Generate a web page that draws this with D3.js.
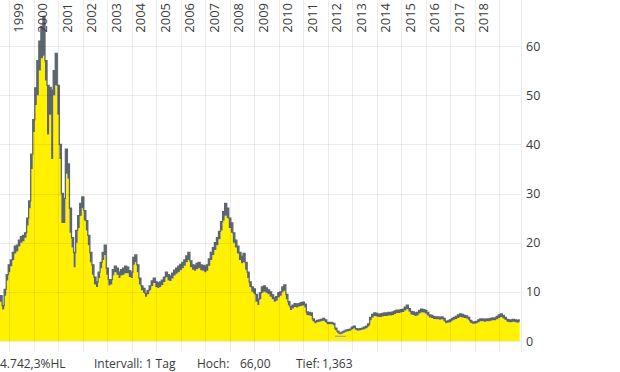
<!DOCTYPE html>
<html><head><meta charset="utf-8">
<script src="https://cdn.jsdelivr.net/npm/d3@7"></script>
<style>body{margin:0;background:#fff}svg{display:block}text{font-family:"Open Sans",sans-serif;fill:#3a3a3a}</style>
</head><body>
<script>
// monthly data starting Aug 1998
const startYear = 1998, startMonth = 7;
const high = [9,9.2,7.2,10.5,13.5,15.5,16.5,18,19.3,19.5,20.5,21.2,21.5,22,25,28.5,38,45,51.5,57,61,64,66,57,52,51.6,51,55,58.5,52,
40,30,29,39,36,27,21,18,22.5,25.5,28,29.3,26.5,24.5,21.5,18,15.5,13,12,14,16,18,19.5,14.8,12.5,12.5,14.5,15.2,14.8,14,
14.5,14.8,15.2,15,14.3,14,17,17.5,15.5,12.8,11.2,10.7,9.7,10.3,11.2,12.2,12.8,12,11.8,12,12.4,13,14,13.5,13.2,13.8,14.4,14.8,15.2,15.6,
16,16.5,17.3,18,16.3,15.5,15.4,15.8,16,15.5,15.4,15.2,15.5,16.7,18,19,20,21,22.3,24.3,26.3,28,27,25,24,22,20.5,19.3,18,17.2,
17.8,16,14,12,11,10.6,9.5,8.5,9.8,11,11.2,10.8,10.4,10,9.4,8.8,9,9.8,10,11,11.4,9.5,8,7,7.3,7.6,7.5,7.6,7.8,7.9,
7.5,5.9,5.8,5.7,4.5,4,4.2,4.3,4.4,4.6,4.3,3.8,3.8,3.8,3.6,2.6,2,1.6,1.8,2,2.2,2.3,2.4,2.8,3,2.5,2.4,2.5,2.6,2.8,
3,3.5,4.8,5.4,5.7,5.6,5.4,5.5,5.6,5.7,5.7,5.8,5.8,5.9,6.1,6.3,6.3,6.4,6.5,6.9,7.3,6.6,6,5.9,5.7,5.8,6.2,6.5,6.4,6.2,
5.8,5.3,5.2,5,4.9,4.9,4.8,4.9,4.6,4,4.1,4.3,4.6,4.8,5,5.3,5.5,5.4,5.2,5.1,4.8,4.2,3.9,3.9,4,4.3,4.5,4.5,4.4,4.5,
4.5,4.6,4.7,4.7,5,5.3,5.5,5.2,4.8,4.4,4.3,4.3,4.4,4.3,4.2,4.3];
const low = [8,8,6.4,9.2,12.3,14,15.2,16.5,17.8,18.2,19.2,20,20.3,21,23.5,27,35,42.5,48,50,55,57.5,58,53,42,46,37,50,52,46,
37,24,24,34,33,22,19,15,20,23,25.5,27,24.5,22.5,19.5,16,13.5,11.5,11,12.8,14.8,16.5,17.5,13.5,11.3,11.5,13.3,14,13.5,12.8,
13.3,13.5,13.8,13.8,13,12.8,15.5,16,14,11.5,10.3,9.8,9,9.5,10.3,11.2,11.8,11,10.8,11,11.4,12,13,12.3,12.2,12.7,13.3,13.7,14,14.4,
14.8,15.3,16,16.5,15,14.5,14.3,14.6,14.8,14.4,14.3,14,14.3,15.3,16.5,17.5,18.5,19.5,20.7,22.5,24.5,25.5,25,23,22,20,19,17.8,16.5,15.8,
16,14.5,12.8,11,10,9.6,8,7.3,8.5,9.8,10,9.8,9.5,9,8.5,8,8.2,8.9,9.2,10,10.2,8.5,7.2,6.3,6.6,6.9,6.8,7,7.1,7.2,
6.8,5.3,5.2,5.1,4,3.6,3.8,3.9,4,4.1,3.8,3.4,3.4,3.4,3.2,2.2,1.7,1.363,1.5,1.7,1.9,2,2.1,2.4,2.6,2.2,2.1,2.2,2.3,2.4,
2.6,3,4.2,4.8,5.1,5,4.9,4.9,5,5.1,5.1,5.2,5.2,5.3,5.5,5.7,5.7,5.8,5.9,6.2,6.5,6,5.4,5.3,5.1,5.2,5.6,5.8,5.8,5.6,
5.2,4.8,4.7,4.5,4.4,4.4,4.3,4.4,4.1,3.6,3.7,3.8,4.1,4.3,4.5,4.7,4.9,4.8,4.7,4.6,4.3,3.7,3.5,3.5,3.6,3.8,4,4,3.9,4,
4,4.1,4.2,4.2,4.4,4.7,4.9,4.6,4.3,3.9,3.8,3.8,3.9,3.8,3.7,3.8];
const yearLabels = ["1999","2000","2001","2002","2003","2004","2005","2006","2007","2008","2009","2010","2011","2012","2013","2014","2015","2016","2017","2018"];
const yTicks = [0,10,20,30,40,50,60];
const footer = [{t:"4.742,3%HL",x:0},{t:"Intervall: 1 Tag",x:94},{t:"Hoch:",x:197},{t:"66,00",x:240},{t:"Tief:",x:296},{t:"1,363",x:322}];

const W = 620, H = 372, plotR = 521;
const svg = d3.select("body").append("svg").attr("width", W).attr("height", H);
const x = d3.scaleTime().domain([new Date(1999,0,1), new Date(2019,0,1)]).range([9.3, 499.3]);
const y = d3.scaleLinear().domain([0,60]).range([341, 46]);
const data = high.map((h,i) => ({d: new Date(startYear, startMonth+i, 1), h, l: low[i]}));
const curve = d3.curveStep;

svg.append("clipPath").attr("id","c").append("rect").attr("x",0).attr("y",0).attr("width",plotR).attr("height",341);
const g = svg.append("g").attr("clip-path","url(#c)");
g.append("path").datum(data).attr("fill","#fff100")
  .attr("d", d3.area().curve(curve).x(d=>x(d.d)).y0(y(0)).y1(d=>y(d.l)));
g.append("path").datum(data).attr("fill","#5d666e")
  .attr("d", d3.area().curve(curve).x(d=>x(d.d)).y0(d=>y(d.l)).y1(d=>y(d.h)));
g.append("path").datum(data).attr("fill","none").attr("stroke","#5d666e").attr("stroke-width",1.3)
  .attr("d", d3.line().curve(curve).x(d=>x(d.d)).y(d=>y(d.h)));

// low marker
const minD = data.reduce((a,b)=> b.l < a.l ? b : a);
svg.append("line").attr("x1", x(minD.d)-5).attr("x2", x(minD.d)+6).attr("y1", y(minD.l)+2).attr("y2", y(minD.l)+2)
  .attr("stroke","#9aa6bd").attr("stroke-width",1.2);

// gridlines
const grid = svg.append("g").attr("stroke","#000").attr("stroke-opacity",0.075);
yTicks.forEach(v => grid.append("line").attr("x1",0).attr("x2",plotR).attr("y1",Math.round(y(v))+0.5).attr("y2",Math.round(y(v))+0.5));
const years = d3.range(1999, 2020).map(yy => new Date(yy,0,1));
years.forEach(dd => grid.append("line").attr("x1",Math.round(x(dd))+0.5).attr("x2",Math.round(x(dd))+0.5).attr("y1",0).attr("y2",352));
grid.append("line").attr("x1",plotR+0.5).attr("x2",plotR+0.5).attr("y1",0).attr("y2",352);

// year labels
yearLabels.forEach(lbl => {
  const gx = x(new Date(+lbl,0,1));
  svg.append("text").attr("transform",`translate(${gx+13.5},3) rotate(-90)`)
    .attr("text-anchor","end").attr("font-size",13).text(lbl);
});
// y labels
yTicks.forEach(v => svg.append("text").attr("x",526).attr("y",y(v)).attr("dy","0.36em").attr("font-size",12.5).text(v));
// footer
footer.forEach(f => svg.append("text").attr("x",f.x).attr("y",368).attr("font-size",12).text(f.t));
</script>
</body></html>
